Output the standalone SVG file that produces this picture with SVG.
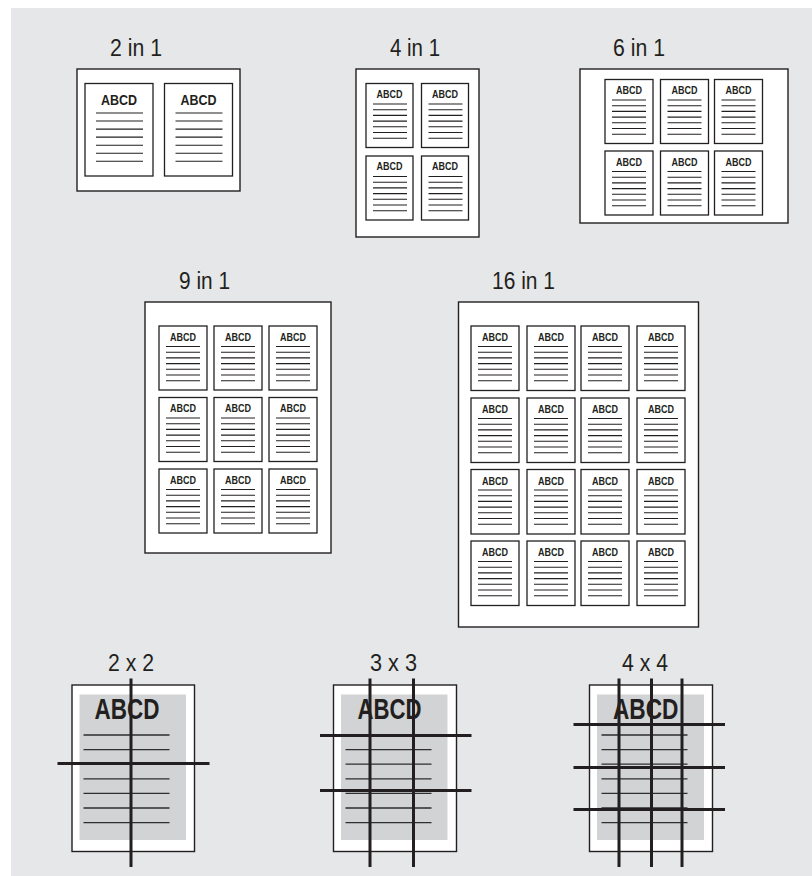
<svg xmlns="http://www.w3.org/2000/svg" xmlns:xlink="http://www.w3.org/1999/xlink" width="812" height="876" viewBox="0 0 812 876">
<style>
.bg{fill:#e6e7e8}
.sheet{fill:#fff;stroke:#231f20;stroke-width:1.4}
.pg{fill:#fff;stroke:#231f20;stroke-width:1.3}
.ln{fill:none;stroke:#231f20;stroke-width:1.1}
.lnb{fill:none;stroke:#2e2e2e;stroke-width:1.3}
.title{font-family:"Liberation Sans",Arial,sans-serif;font-size:23px;fill:#231f20}
.m{font-family:"Liberation Sans",Arial,sans-serif;font-weight:bold;font-size:10.5px;fill:#231f20;text-anchor:middle}
.m2{font-family:"Liberation Sans",Arial,sans-serif;font-weight:bold;font-size:15.5px;fill:#231f20;text-anchor:middle}
.big{font-family:"Liberation Sans",Arial,sans-serif;font-weight:bold;font-size:29px;fill:#231f20}
.gr{fill:#d1d3d4}
.cut{stroke:#231f20;stroke-width:3;fill:none}
</style>
<defs>
<path id="ml" class="ln" d="M7 20.5H41M7 26.2H41M7 31.9H41M7 37.6H41M7 43.3H41M7 49H41M7 54.7H41"/>
<path id="ml2" class="ln" d="M11 29.5H58M11 37.5H58M11 45.6H58M11 53.6H58M11 61.7H58M11 69.7H58M11 77.8H58"/>
<path id="bl" class="lnb" d="M0 735H86M0 749.6H86M0 764.2H86M0 778.8H86M0 793.4H86M0 808H86M0 822.7H86"/>
</defs>
<rect class="bg" x="11" y="8" width="801" height="868"/>

<g id="n2in1">
<text class="title" x="110" y="56" textLength="52" lengthAdjust="spacingAndGlyphs">2 in 1</text>
<rect class="sheet" x="77" y="69" width="163" height="122"/>
<g transform="translate(85,83.5)"><rect class="pg" width="68" height="92.5"/><text class="m2" x="34" y="21.5" textLength="36" lengthAdjust="spacingAndGlyphs">ABCD</text><use xlink:href="#ml2"/></g>
<g transform="translate(164.5,83.5)"><rect class="pg" width="68" height="92.5"/><text class="m2" x="34" y="21.5" textLength="36" lengthAdjust="spacingAndGlyphs">ABCD</text><use xlink:href="#ml2"/></g>
</g>

<g id="n4in1">
<text class="title" x="390" y="56" textLength="50" lengthAdjust="spacingAndGlyphs">4 in 1</text>
<rect class="sheet" x="356" y="69" width="123" height="168"/>
<g transform="translate(366,83.5)"><rect class="pg" width="47" height="64"/><text class="m" x="23.5" y="14" textLength="26" lengthAdjust="spacingAndGlyphs">ABCD</text><use xlink:href="#ml"/></g>
<g transform="translate(421.5,83.5)"><rect class="pg" width="47" height="64"/><text class="m" x="23.5" y="14" textLength="26" lengthAdjust="spacingAndGlyphs">ABCD</text><use xlink:href="#ml"/></g>
<g transform="translate(366,156)"><rect class="pg" width="47" height="64"/><text class="m" x="23.5" y="14" textLength="26" lengthAdjust="spacingAndGlyphs">ABCD</text><use xlink:href="#ml"/></g>
<g transform="translate(421.5,156)"><rect class="pg" width="47" height="64"/><text class="m" x="23.5" y="14" textLength="26" lengthAdjust="spacingAndGlyphs">ABCD</text><use xlink:href="#ml"/></g>
</g>

<g id="n6in1">
<text class="title" x="613" y="56" textLength="52" lengthAdjust="spacingAndGlyphs">6 in 1</text>
<rect class="sheet" x="580" y="69" width="208" height="154"/>
<g transform="translate(605,79.5)"><rect class="pg" width="48" height="64"/><text class="m" x="24" y="14.5" textLength="26" lengthAdjust="spacingAndGlyphs">ABCD</text><use xlink:href="#ml"/></g>
<g transform="translate(660.5,79.5)"><rect class="pg" width="48" height="64"/><text class="m" x="24" y="14.5" textLength="26" lengthAdjust="spacingAndGlyphs">ABCD</text><use xlink:href="#ml"/></g>
<g transform="translate(714.5,79.5)"><rect class="pg" width="48" height="64"/><text class="m" x="24" y="14.5" textLength="26" lengthAdjust="spacingAndGlyphs">ABCD</text><use xlink:href="#ml"/></g>
<g transform="translate(605,151)"><rect class="pg" width="48" height="64"/><text class="m" x="24" y="14.5" textLength="26" lengthAdjust="spacingAndGlyphs">ABCD</text><use xlink:href="#ml"/></g>
<g transform="translate(660.5,151)"><rect class="pg" width="48" height="64"/><text class="m" x="24" y="14.5" textLength="26" lengthAdjust="spacingAndGlyphs">ABCD</text><use xlink:href="#ml"/></g>
<g transform="translate(714.5,151)"><rect class="pg" width="48" height="64"/><text class="m" x="24" y="14.5" textLength="26" lengthAdjust="spacingAndGlyphs">ABCD</text><use xlink:href="#ml"/></g>
</g>

<g id="n9in1">
<text class="title" x="179" y="288.5" textLength="51" lengthAdjust="spacingAndGlyphs">9 in 1</text>
<rect class="sheet" x="145" y="302" width="186" height="251"/>
<g transform="translate(159,326)"><rect class="pg" width="48" height="64"/><text class="m" x="24" y="14.8" textLength="26" lengthAdjust="spacingAndGlyphs">ABCD</text><use xlink:href="#ml"/></g>
<g transform="translate(214,326)"><rect class="pg" width="48" height="64"/><text class="m" x="24" y="14.8" textLength="26" lengthAdjust="spacingAndGlyphs">ABCD</text><use xlink:href="#ml"/></g>
<g transform="translate(269,326)"><rect class="pg" width="48" height="64"/><text class="m" x="24" y="14.8" textLength="26" lengthAdjust="spacingAndGlyphs">ABCD</text><use xlink:href="#ml"/></g>
<g transform="translate(159,397.5)"><rect class="pg" width="48" height="64"/><text class="m" x="24" y="14.8" textLength="26" lengthAdjust="spacingAndGlyphs">ABCD</text><use xlink:href="#ml"/></g>
<g transform="translate(214,397.5)"><rect class="pg" width="48" height="64"/><text class="m" x="24" y="14.8" textLength="26" lengthAdjust="spacingAndGlyphs">ABCD</text><use xlink:href="#ml"/></g>
<g transform="translate(269,397.5)"><rect class="pg" width="48" height="64"/><text class="m" x="24" y="14.8" textLength="26" lengthAdjust="spacingAndGlyphs">ABCD</text><use xlink:href="#ml"/></g>
<g transform="translate(159,469)"><rect class="pg" width="48" height="64"/><text class="m" x="24" y="14.8" textLength="26" lengthAdjust="spacingAndGlyphs">ABCD</text><use xlink:href="#ml"/></g>
<g transform="translate(214,469)"><rect class="pg" width="48" height="64"/><text class="m" x="24" y="14.8" textLength="26" lengthAdjust="spacingAndGlyphs">ABCD</text><use xlink:href="#ml"/></g>
<g transform="translate(269,469)"><rect class="pg" width="48" height="64"/><text class="m" x="24" y="14.8" textLength="26" lengthAdjust="spacingAndGlyphs">ABCD</text><use xlink:href="#ml"/></g>
</g>

<g id="n16in1">
<text class="title" x="492" y="289" textLength="63" lengthAdjust="spacingAndGlyphs">16 in 1</text>
<rect class="sheet" x="458.5" y="302" width="240" height="325"/>
<g transform="translate(471,326)"><rect class="pg" width="48" height="64.5"/><text class="m" x="24" y="15" textLength="26" lengthAdjust="spacingAndGlyphs">ABCD</text><use xlink:href="#ml"/></g>
<g transform="translate(527,326)"><rect class="pg" width="48" height="64.5"/><text class="m" x="24" y="15" textLength="26" lengthAdjust="spacingAndGlyphs">ABCD</text><use xlink:href="#ml"/></g>
<g transform="translate(581,326)"><rect class="pg" width="48" height="64.5"/><text class="m" x="24" y="15" textLength="26" lengthAdjust="spacingAndGlyphs">ABCD</text><use xlink:href="#ml"/></g>
<g transform="translate(637,326)"><rect class="pg" width="48" height="64.5"/><text class="m" x="24" y="15" textLength="26" lengthAdjust="spacingAndGlyphs">ABCD</text><use xlink:href="#ml"/></g>
<g transform="translate(471,398)"><rect class="pg" width="48" height="64.5"/><text class="m" x="24" y="15" textLength="26" lengthAdjust="spacingAndGlyphs">ABCD</text><use xlink:href="#ml"/></g>
<g transform="translate(527,398)"><rect class="pg" width="48" height="64.5"/><text class="m" x="24" y="15" textLength="26" lengthAdjust="spacingAndGlyphs">ABCD</text><use xlink:href="#ml"/></g>
<g transform="translate(581,398)"><rect class="pg" width="48" height="64.5"/><text class="m" x="24" y="15" textLength="26" lengthAdjust="spacingAndGlyphs">ABCD</text><use xlink:href="#ml"/></g>
<g transform="translate(637,398)"><rect class="pg" width="48" height="64.5"/><text class="m" x="24" y="15" textLength="26" lengthAdjust="spacingAndGlyphs">ABCD</text><use xlink:href="#ml"/></g>
<g transform="translate(471,469.5)"><rect class="pg" width="48" height="64.5"/><text class="m" x="24" y="15" textLength="26" lengthAdjust="spacingAndGlyphs">ABCD</text><use xlink:href="#ml"/></g>
<g transform="translate(527,469.5)"><rect class="pg" width="48" height="64.5"/><text class="m" x="24" y="15" textLength="26" lengthAdjust="spacingAndGlyphs">ABCD</text><use xlink:href="#ml"/></g>
<g transform="translate(581,469.5)"><rect class="pg" width="48" height="64.5"/><text class="m" x="24" y="15" textLength="26" lengthAdjust="spacingAndGlyphs">ABCD</text><use xlink:href="#ml"/></g>
<g transform="translate(637,469.5)"><rect class="pg" width="48" height="64.5"/><text class="m" x="24" y="15" textLength="26" lengthAdjust="spacingAndGlyphs">ABCD</text><use xlink:href="#ml"/></g>
<g transform="translate(471,541)"><rect class="pg" width="48" height="64.5"/><text class="m" x="24" y="15" textLength="26" lengthAdjust="spacingAndGlyphs">ABCD</text><use xlink:href="#ml"/></g>
<g transform="translate(527,541)"><rect class="pg" width="48" height="64.5"/><text class="m" x="24" y="15" textLength="26" lengthAdjust="spacingAndGlyphs">ABCD</text><use xlink:href="#ml"/></g>
<g transform="translate(581,541)"><rect class="pg" width="48" height="64.5"/><text class="m" x="24" y="15" textLength="26" lengthAdjust="spacingAndGlyphs">ABCD</text><use xlink:href="#ml"/></g>
<g transform="translate(637,541)"><rect class="pg" width="48" height="64.5"/><text class="m" x="24" y="15" textLength="26" lengthAdjust="spacingAndGlyphs">ABCD</text><use xlink:href="#ml"/></g>
</g>

<g id="n2x2">
<text class="title" x="108" y="671" textLength="46" lengthAdjust="spacingAndGlyphs">2 x 2</text>
<rect class="sheet" x="72" y="685" width="122.5" height="166.5"/>
<rect class="gr" x="79.5" y="694.5" width="106.5" height="145.5"/>
<text class="big" x="94.5" y="719" textLength="65" lengthAdjust="spacingAndGlyphs">ABCD</text>
<use xlink:href="#bl" transform="translate(83.5,0)"/>
<path class="cut" d="M57.5 763.5H209.5M131 678.5V867"/>
</g>

<g id="n3x3">
<text class="title" x="370" y="671" textLength="47" lengthAdjust="spacingAndGlyphs">3 x 3</text>
<rect class="sheet" x="333.5" y="685" width="123" height="166.5"/>
<rect class="gr" x="341" y="694.5" width="106.5" height="145.5"/>
<text class="big" x="357.5" y="719" textLength="64" lengthAdjust="spacingAndGlyphs">ABCD</text>
<use xlink:href="#bl" transform="translate(345.5,0)"/>
<path class="cut" d="M320 735.5H471.5M320 790.5H471.5M370 678.5V867M413.5 678.5V867"/>
</g>

<g id="n4x4">
<text class="title" x="622" y="671" textLength="46" lengthAdjust="spacingAndGlyphs">4 x 4</text>
<rect class="sheet" x="589.5" y="685" width="123" height="166.5"/>
<rect class="gr" x="597" y="694.5" width="107" height="145.5"/>
<text class="big" x="613" y="719" textLength="65.5" lengthAdjust="spacingAndGlyphs">ABCD</text>
<use xlink:href="#bl" transform="translate(601.5,0)"/>
<path class="cut" d="M573.5 724.5H725M573.5 767.5H725M573.5 809.5H725M619 678.5V867M651.5 678.5V867M682 678.5V867"/>
</g>
</svg>
